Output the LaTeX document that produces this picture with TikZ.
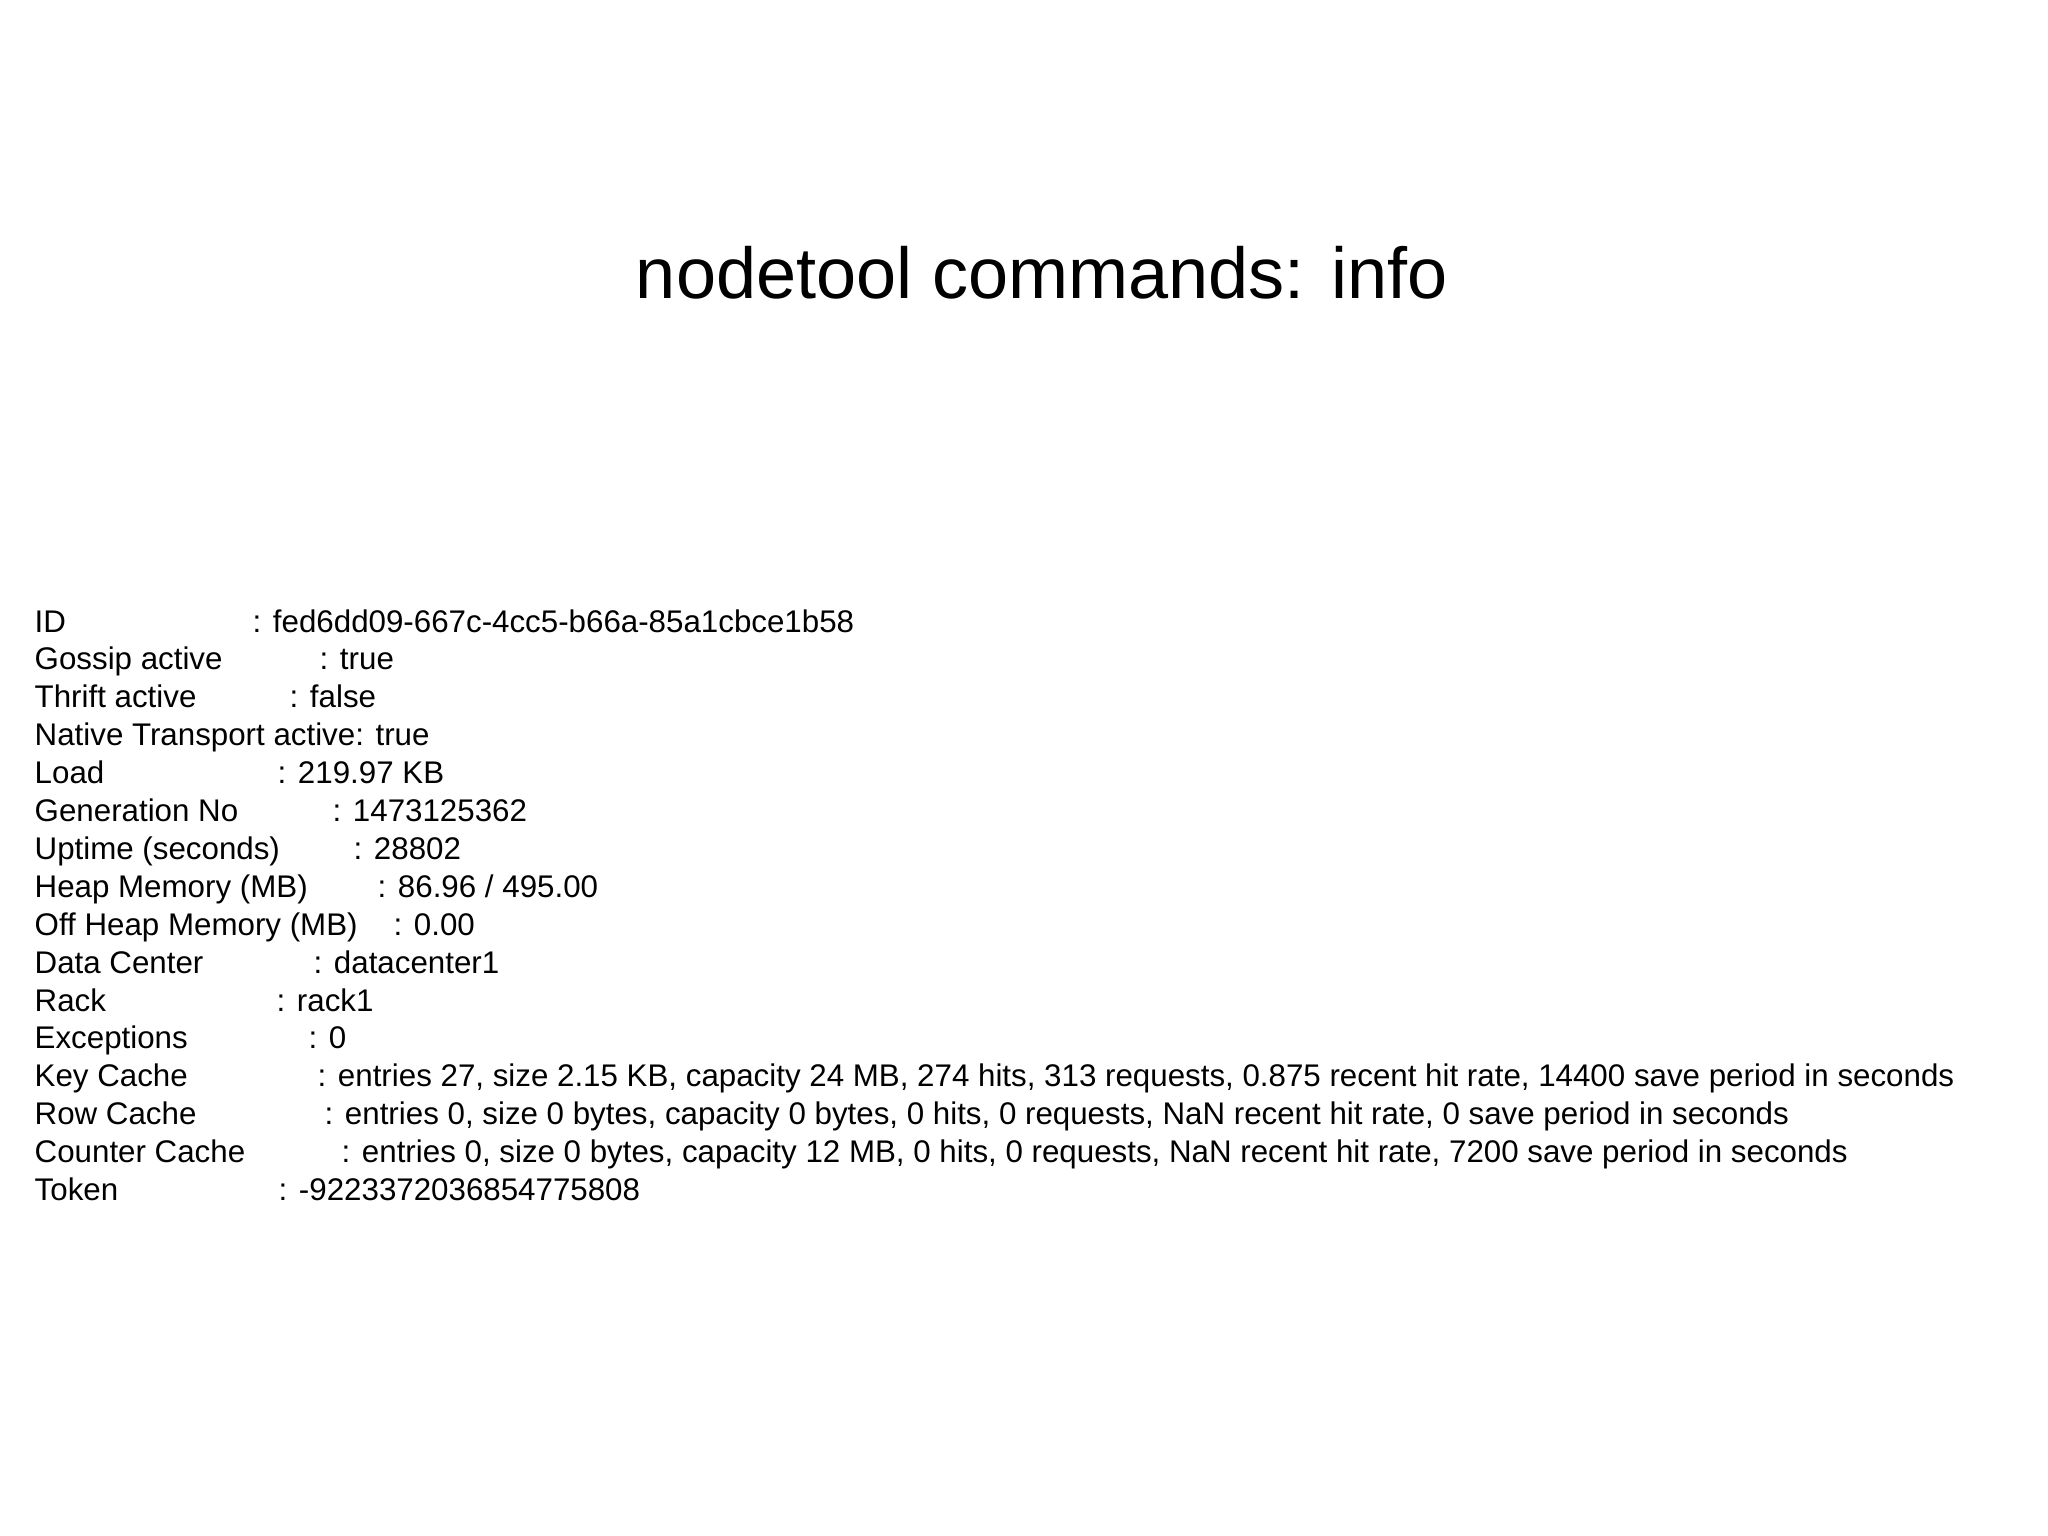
\documentclass[tikz,border=0pt]{standalone}
\usepackage{fontspec}
\setmainfont{Liberation Sans}
\begin{document}
\begin{tikzpicture}[x=0.01cm,y=-0.01cm,
  lbl/.style={anchor=base west,inner sep=0pt,font=\fontsize{8.9}{10}\selectfont}]
\useasboundingbox (0,0) rectangle (2048,1536);
\node[anchor=base,inner sep=0pt,font=\fontsize{20.5}{24}\selectfont] (title) at (1042,298) {nodetool commands: info};
\foreach \i/\k/\cx/\v in {
 0/ID/252/{: fed6dd09-667c-4cc5-b66a-85a1cbce1b58},
 1/Gossip active/319/{: true},
 2/Thrift active/289/{: false},
 4/Load/277/{: 219.97 KB},
 5/Generation No/332/{: 1473125362},
 6/Uptime (seconds)/353/{: 28802},
 7/Heap Memory (MB)/377/{: 86.96 / 495.00},
 8/Off Heap Memory (MB)/393/{: 0.00},
 9/Data Center/313/{: datacenter1},
 10/Rack/276/{: rack1},
 11/Exceptions/308/{: 0},
 12/Key Cache/317/{: entries 27, size 2.15 KB, capacity 24 MB, 274 hits, 313 requests, 0.875 recent hit rate, 14400 save period in seconds},
 13/Row Cache/324/{: entries 0, size 0 bytes, capacity 0 bytes, 0 hits, 0 requests, NaN recent hit rate, 0 save period in seconds},
 14/Counter Cache/341/{: entries 0, size 0 bytes, capacity 12 MB, 0 hits, 0 requests, NaN recent hit rate, 7200 save period in seconds},
 15/Token/278/{: -9223372036854775808}}{
  \node[lbl] (k\i) at (34,{632+37.9*\i}) {\k};
  \node[lbl] (v\i) at (\cx,{632+37.9*\i}) {\v};
}
\node[lbl] (k3) at (34,{632+37.9*3}) {Native Transport active: true};
\end{tikzpicture}
\end{document}
